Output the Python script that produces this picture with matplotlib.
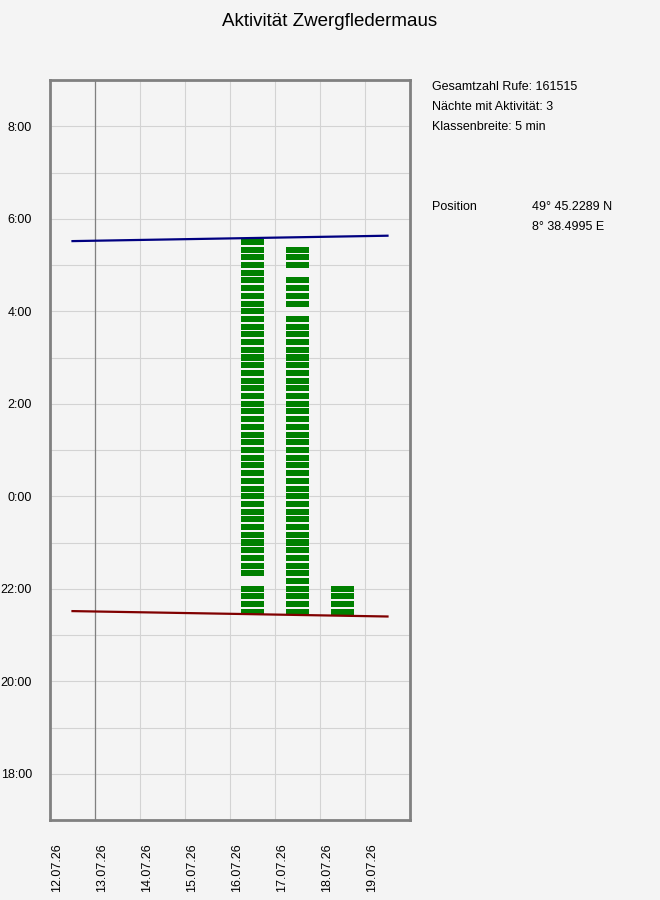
import numpy as np
import matplotlib
matplotlib.use("Agg")
import matplotlib.pyplot as plt
import matplotlib.transforms as mtransforms

plt.rcParams['font.family'] = ['Liberation Sans', 'DejaVu Sans']

# Tage (Juli 2026), Abend des Tages = Start der Nacht
days = [12, 13, 14, 15, 16, 17, 18, 19]
day_labels = ["12.07.26", "13.07.26", "14.07.26", "15.07.26",
              "16.07.26", "17.07.26", "18.07.26", "19.07.26"]

# Sonnenuntergang / Sonnenaufgang je Nacht
sunset = ["21:31", "21:30", "21:29", "21:28", "21:27", "21:26", "21:25", "21:24"]
sunrise = ["5:31", "5:32", "5:33", "5:34", "5:35", "5:36", "5:37", "5:38"]

# aktive Zeitklassen je Nacht als Bereiche (erste, letzte Klasse)
night_days = [16, 17, 18]
active_runs = [
    [("21:30", "22:00"), ("22:20", "5:30")],
    [("21:30", "3:50"), ("4:10", "4:40"), ("5:00", "5:20")],
    [("21:30", "22:00")],
]
slot_min = 10

info_lines = ["Gesamtzahl Rufe: 161515", "Nächte mit Aktivität: 3", "Klassenbreite: 5 min"]
position_lat = "49° 45.2289 N"
position_lon = "8° 38.4995 E"


def to_hour(s):
    h, m = s.split(":")
    h = int(h) + int(m) / 60.0
    if h < 12:
        h += 24
    return h


bg = "#f4f4f4"
fig = plt.figure(figsize=(6.6, 9), dpi=100, facecolor=bg)
ax = fig.add_axes([50 / 660, 80 / 900, 360 / 660, 740 / 900])
ax.set_facecolor(bg)

# Aktivitaetsbalken
for d, runs in zip(night_days, active_runs):
    for a, b in runs:
        starts = np.arange(to_hour(a), to_hour(b) + 1e-6, slot_min / 60.0)
        ax.bar([d + 0.5] * len(starts), [0.13] * len(starts), width=0.5,
               bottom=starts - 0.065, color="#008000", align="center", zorder=3)

x_mid = [d + 0.5 for d in days]
ax.plot(x_mid, [to_hour(s) for s in sunset], color="#800000", lw=1.6, zorder=4)
ax.plot(x_mid, [to_hour(s) for s in sunrise], color="#000080", lw=1.6, zorder=4)

ax.set_xlim(12, 20)
ax.set_ylim(17, 33)

# x-Beschriftung leicht rechts neben den Gitterlinien
ax.set_xticks(days)
ax.set_xticklabels([])
lab_trans = ax.get_xaxis_transform() + mtransforms.ScaledTranslation(7 / 100, -23 / 100, fig.dpi_scale_trans)
for d, lab in zip(days, day_labels):
    ax.text(d, 0, lab, transform=lab_trans, rotation=90, ha="center", va="top", fontsize=9)

hours = list(range(17, 34))
ax.set_yticks(hours)
ax.set_yticklabels([("%d:00" % (h % 24)) if h % 2 == 0 else "" for h in hours], fontsize=9)

ax.tick_params(length=0)
ax.tick_params(axis="y", pad=13)
ax.grid(True, color="#d3d3d3", lw=0.8, zorder=0)
ax.set_axisbelow(True)
ax.axvline(13, color="#808080", lw=0.9, zorder=1)

for sp in ax.spines.values():
    sp.set_color("#808080")
    sp.set_linewidth(2)

fig.text(0.5, 1 - 22 / 900, "Aktivität Zwergfledermaus", ha="center", va="center", fontsize=13.5)

for i, t in enumerate(info_lines):
    fig.text(432 / 660, 1 - (87 + 20 * i) / 900, t, ha="left", va="center", fontsize=9)
fig.text(432 / 660, 1 - 207 / 900, "Position", ha="left", va="center", fontsize=9)
fig.text(532 / 660, 1 - 207 / 900, position_lat, ha="left", va="center", fontsize=9)
fig.text(532 / 660, 1 - 227 / 900, position_lon, ha="left", va="center", fontsize=9)

fig.savefig("out.png", dpi=100, facecolor=bg)
